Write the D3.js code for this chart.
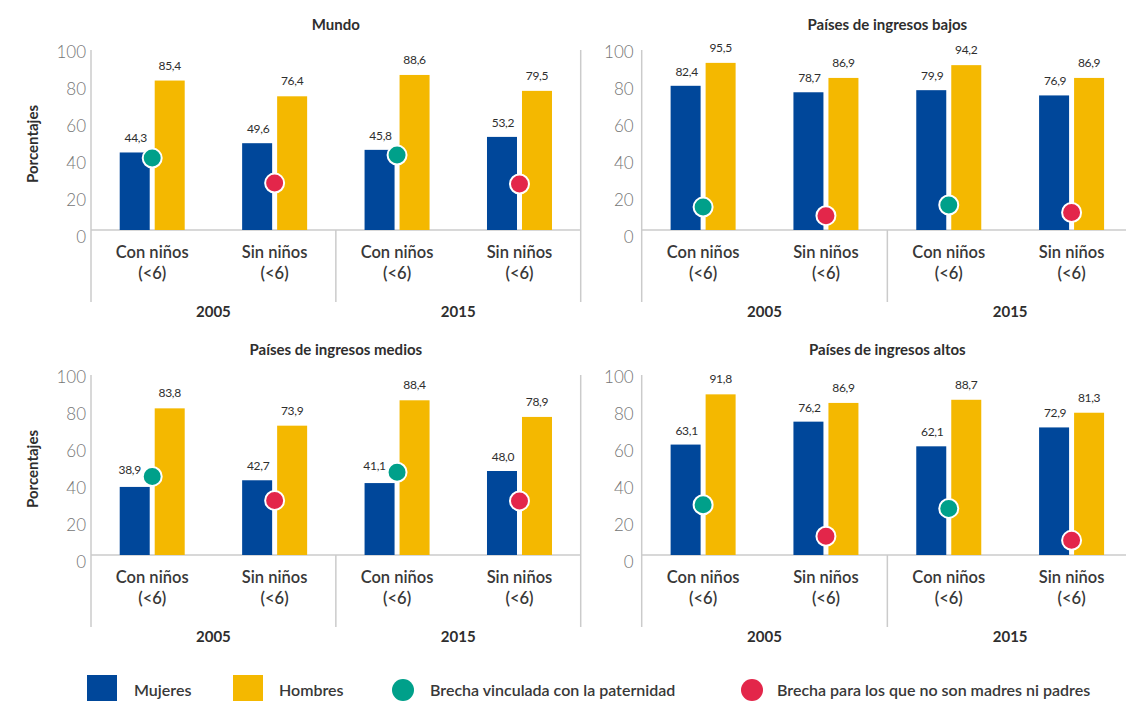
<!DOCTYPE html>
<html>
<head>
<meta charset="utf-8">
<script src="https://cdn.jsdelivr.net/npm/d3@7"></script>
<style>
  body { margin: 0; background: #fff; }
  svg { font-family: Lato, "Open Sans", sans-serif; }
</style>
</head>
<body>
<div id="main"></div>
<script>
// Data
const panelTitles = ['Mundo', 'Países de ingresos bajos', 'Países de ingresos medios', 'Países de ingresos altos'];
const categories = ['Con niños|(<6)', 'Sin niños|(<6)', 'Con niños|(<6)', 'Sin niños|(<6)'];
const years = ['2005', '2015'];
const series = ['Mujeres', 'Hombres'];
const yTicks = [0, 20, 40, 60, 80, 100];

const mujeres = [
    [44.3, 49.6, 45.8, 53.2],
    [82.4, 78.7, 79.9, 76.9],
    [38.9, 42.7, 41.1, 48.0],
    [63.1, 76.2, 62.1, 72.9]
];
const hombres = [
    [85.4, 76.4, 88.6, 79.5],
    [95.5, 86.9, 94.2, 86.9],
    [83.8, 73.9, 88.4, 78.9],
    [91.8, 86.9, 88.7, 81.3]
];
// gap between men and women (dots)
const brecha = [
    [41.1, 26.8, 42.8, 26.3],
    [13.1, 8.2, 14.3, 10.0],
    [44.9, 31.2, 47.3, 30.9],
    [28.7, 10.7, 26.6, 8.4]
];
const legendLabels = ['Mujeres', 'Hombres', 'Brecha vinculada con la paternidad', 'Brecha para los que no son madres ni padres'];

// Colours
const blue = '#00479a';
const yellow = '#f4b800';
const green = '#00a08a';
const red = '#e3264a';
const lineColor = '#cbcbcb';
const textColor = '#2e2e2e';

const w = 1126;
const h = 701;

const svg = d3.select('#main')
    .append('svg')
    .attr('width', w)
    .attr('height', h);

// panel layout: left axis x, right end x, baseline y
const layout = [
    {x0: 91, x1: 580.7, base: 230},
    {x0: 641.7, x1: 1133, base: 230},
    {x0: 91, x1: 580.7, base: 555},
    {x0: 641.7, x1: 1133, base: 555}
];

const fmt = (v) => v.toFixed(1).replace('.', ',');

panelTitles.forEach((title, p) => {
    const L = layout[p];
    const g = svg.append('g');

    const yScale = d3.scaleLinear().domain([0, 100]).range([L.base, L.base - 175]);
    // tick labels sit a little lower than the bar scale
    const yLab = d3.scaleLinear().domain([0, 100]).range([L.base + 7, L.base - 178]);

    const xScale = d3.scaleBand().domain(d3.range(categories.length)).range([L.x0, L.x1]);
    const xInner = d3.scaleBand().domain(series).range([0, 65]).paddingInner(1 / 7);
    const half = 32.5;

    // lines
    g.append('line')
        .attr('x1', L.x0).attr('x2', L.x0)
        .attr('y1', L.base - 180).attr('y2', L.base + 72)
        .attr('stroke', lineColor).attr('stroke-width', 1.5);
    g.append('line')
        .attr('x1', L.x1).attr('x2', L.x1)
        .attr('y1', L.base - 180).attr('y2', L.base + 72)
        .attr('stroke', lineColor).attr('stroke-width', 1.5);
    g.append('line')
        .attr('x1', xScale(2)).attr('x2', xScale(2))
        .attr('y1', L.base).attr('y2', L.base + 72)
        .attr('stroke', lineColor).attr('stroke-width', 1.5);
    g.append('line')
        .attr('x1', L.x0).attr('x2', L.x1)
        .attr('y1', L.base).attr('y2', L.base)
        .attr('stroke', lineColor).attr('stroke-width', 1.5);

    // tick labels
    g.selectAll('.tick-label')
        .data(yTicks)
        .enter()
        .append('text')
        .attr('x', L.x0 - (p % 2 == 0 ? 5 : 8))
        .attr('y', (d) => yLab(d))
        .attr('dy', '0.35em')
        .attr('text-anchor', 'end')
        .style('font-size', '17px')
        .style('font-weight', 300)
        .style('fill', '#757575')
        .text((d) => d);

    // title
    g.append('text')
        .attr('x', (L.x0 + Math.min(L.x1, w + 7)) / 2)
        .attr('y', L.base - 205)
        .attr('dy', '0.35em')
        .attr('text-anchor', 'middle')
        .style('font-size', '15px')
        .style('font-weight', 700)
        .style('fill', textColor)
        .text(title);

    if (p % 2 == 0) {
        g.append('text')
            .attr('transform', `translate(33, ${L.base - 86}) rotate(-90)`)
            .attr('dy', '0.35em')
            .attr('text-anchor', 'middle')
            .style('font-size', '15px')
            .style('font-weight', 700)
            .style('fill', textColor)
            .text('Porcentajes');
    }

    const rows = categories.map((c, i) => ({i: i, m: mujeres[p][i], h: hombres[p][i], b: brecha[p][i]}));
    const center = (i) => xScale(i) + xScale.bandwidth() / 2;

    // bars
    g.selectAll('.bar-m')
        .data(rows)
        .enter()
        .append('rect')
        .attr('x', (d) => center(d.i) - half + xInner('Mujeres'))
        .attr('y', (d) => yScale(d.m))
        .attr('width', xInner.bandwidth())
        .attr('height', (d) => yScale(0) - yScale(d.m))
        .style('fill', blue);

    g.selectAll('.bar-h')
        .data(rows)
        .enter()
        .append('rect')
        .attr('x', (d) => center(d.i) - half + xInner('Hombres'))
        .attr('y', (d) => yScale(d.h))
        .attr('width', xInner.bandwidth())
        .attr('height', (d) => yScale(0) - yScale(d.h))
        .style('fill', yellow);

    // value labels (women's label moves left if the dot sits right next to it)
    g.selectAll('.lab-m')
        .data(rows)
        .enter()
        .append('text')
        .attr('x', (d) => {
            const cx = center(d.i) - half + xInner('Mujeres') + xInner.bandwidth() / 2 + 1;
            const clash = Math.abs((yScale(d.m) - 14) - yScale(d.b)) < 14;
            return clash ? cx - 6 : cx;
        })
        .attr('y', (d) => {
            const clash = Math.abs((yScale(d.m) - 14) - yScale(d.b)) < 14;
            return yScale(d.m) - (clash ? 13 : 10);
        })
        .attr('text-anchor', 'middle')
        .style('font-size', '12px')
        .style('letter-spacing', '-0.3px')
        .style('fill', textColor)
        .text((d) => fmt(d.m));

    g.selectAll('.lab-h')
        .data(rows)
        .enter()
        .append('text')
        .attr('x', (d) => center(d.i) - half + xInner('Hombres') + xInner.bandwidth() / 2)
        .attr('y', (d) => yScale(d.h) - 11)
        .attr('text-anchor', 'middle')
        .style('font-size', '12px')
        .style('letter-spacing', '-0.3px')
        .style('fill', textColor)
        .text((d) => fmt(d.h));

    // gap dots
    g.selectAll('.dot')
        .data(rows)
        .enter()
        .append('circle')
        .attr('cx', (d) => center(d.i))
        .attr('cy', (d) => yScale(d.b))
        .attr('r', 9.5)
        .style('fill', (d) => (d.i % 2 == 0 ? green : red))
        .style('stroke', '#fff')
        .style('stroke-width', 2);

    // category labels
    categories.forEach((c, i) => {
        const parts = c.split('|');
        parts.forEach((t, k) => {
            g.append('text')
                .attr('x', center(i))
                .attr('y', L.base + 22 + k * 21)
                .attr('dy', '0.35em')
                .attr('text-anchor', 'middle')
                .style('font-size', '16.5px')
                .style('font-weight', 600)
                .style('fill', '#383838')
                .text(t);
        });
    });

    // year labels
    years.forEach((yr, k) => {
        g.append('text')
            .attr('x', (xScale(k * 2) + xScale(k * 2 + 1) + xScale.bandwidth()) / 2)
            .attr('y', L.base + 82)
            .attr('dy', '0.35em')
            .attr('text-anchor', 'middle')
            .style('font-size', '15px')
            .style('font-weight', 700)
            .style('fill', textColor)
            .text(yr);
    });
});

// Legend
const legendX = [87, 233, 403, 752];
const legendTextX = [134, 279, 430, 777];
const legend = svg.append('g');
legendLabels.forEach((t, i) => {
    if (i < 2) {
        legend.append('rect')
            .attr('x', legendX[i])
            .attr('y', 675)
            .attr('width', 30)
            .attr('height', 26)
            .style('fill', i == 0 ? blue : yellow);
    } else {
        legend.append('circle')
            .attr('cx', legendX[i])
            .attr('cy', 690)
            .attr('r', 11)
            .style('fill', i == 2 ? green : red);
    }
    legend.append('text')
        .attr('x', legendTextX[i])
        .attr('y', 690)
        .attr('dy', '0.35em')
        .style('font-size', '16px')
        .style('font-weight', 600)
        .style('fill', '#383838')
        .text(t);
});
</script>
</body>
</html>
